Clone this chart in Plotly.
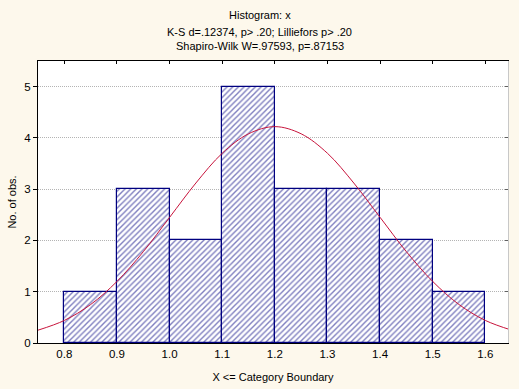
import plotly.graph_objects as go

# ---- data ----
bin_edges = [0.8, 0.9, 1.0, 1.1, 1.2, 1.3, 1.4, 1.5, 1.6]
counts = [1, 3, 2, 5, 3, 3, 2, 1]
curve_x = [0.75, 0.80, 0.85, 0.90, 0.95, 1.00, 1.05, 1.10, 1.15, 1.20,
           1.25, 1.30, 1.35, 1.40, 1.45, 1.50, 1.55, 1.60, 1.65]
curve_y = [0.25, 0.44, 0.75, 1.20, 1.78, 2.45, 3.12, 3.70, 4.08, 4.22,
           4.08, 3.70, 3.12, 2.45, 1.78, 1.20, 0.75, 0.44, 0.25]
x_ticks = [0.8, 0.9, 1.0, 1.1, 1.2, 1.3, 1.4, 1.5, 1.6]
x_ticklabels = ["0.8", "0.9", "1.0", "1.1", "1.2", "1.3", "1.4", "1.5", "1.6"]
y_ticks = [0, 1, 2, 3, 4, 5]
title_lines = ["Histogram: x",
               "K-S d=.12374, p> .20; Lilliefors p> .20",
               "Shapiro-Wilk W=.97593, p=.87153"]

centers = [(a + b) / 2 for a, b in zip(bin_edges[:-1], bin_edges[1:])]
widths = [b - a for a, b in zip(bin_edges[:-1], bin_edges[1:])]

FONT = "Liberation Sans, Arial, sans-serif"
BG = "#fdf8ec"

fig = go.Figure()
fig.add_trace(go.Bar(
    x=centers, y=counts, width=widths,
    marker=dict(color="white",
                line=dict(color="#000080", width=1.2),
                pattern=dict(shape="/", fgcolor="#000080", bgcolor="white",
                             size=4, solidity=0.35)),
    showlegend=False, hoverinfo="skip"))
fig.add_trace(go.Scatter(
    x=curve_x, y=curve_y, mode="lines",
    line=dict(color="#c8143c", width=1, shape="spline"),
    showlegend=False, hoverinfo="skip"))
# dummy trace for the mirrored frame axes
fig.add_trace(go.Scatter(x=[None], y=[None], xaxis="x2", yaxis="y2",
                         showlegend=False, hoverinfo="skip"))

fig.update_layout(
    width=519, height=389,
    margin=dict(l=38, r=11, t=61, b=46),
    paper_bgcolor=BG, plot_bgcolor="white",
    font=dict(family=FONT, size=11, color="black"),
    bargap=0,
    xaxis=dict(range=[0.75, 1.643], tickvals=x_ticks, ticktext=x_ticklabels,
               showgrid=False, zeroline=False, showline=True,
               linecolor="black", linewidth=1, ticks="", automargin=False,
               tickfont=dict(size=11.5),
               title=dict(text="X <= Category Boundary", standoff=14,
                          font=dict(size=11))),
    yaxis=dict(range=[0, 5.5], tickvals=y_ticks, automargin=False,
               showgrid=True, gridcolor="#b4b4b4", griddash="1px,1px",
               gridwidth=1,
               zeroline=False, showline=True, linecolor="black", linewidth=1,
               ticks="outside", ticklen=4, tickcolor="black",
               tickfont=dict(size=11.5),
               title=dict(text="No. of obs.", standoff=5,
                          font=dict(size=11))),
    xaxis2=dict(overlaying="x", matches="x", side="top", anchor="y2",
                tickvals=x_ticks, showticklabels=False, ticks="inside",
                ticklen=3, tickcolor="black", showline=True, automargin=False,
                linecolor="black", linewidth=1, showgrid=False, zeroline=False),
    yaxis2=dict(overlaying="y", matches="y", side="right", anchor="x2",
                tickvals=y_ticks, showticklabels=False, ticks="inside",
                ticklen=3, tickcolor="#606060", showline=True, automargin=False,
                linecolor="#c8c8c8", linewidth=1, showgrid=False,
                zeroline=False),
)

page_cx = (259.5 - 38) / (519 - 38 - 11)
for txt, yp in zip(title_lines, [15, 32, 46]):
    fig.add_annotation(text=txt, xref="paper", yref="paper",
                       x=page_cx, y=1 + (61 - yp) / (389 - 61 - 46),
                       xanchor="center", yanchor="middle",
                       showarrow=False, font=dict(size=11))

fig.write_html("out.html", config={"displayModeBar": False},
               post_script="document.body.style.margin='0';")
